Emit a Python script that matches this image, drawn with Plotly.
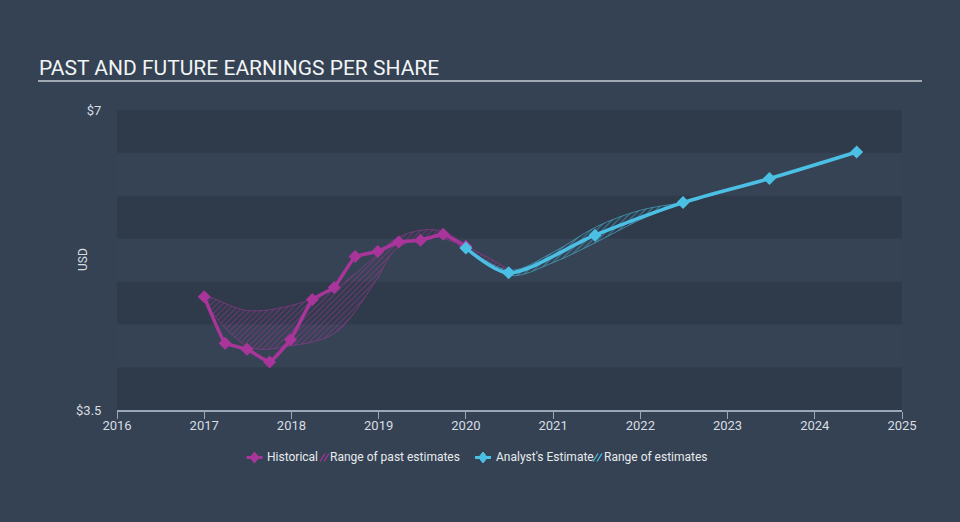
import plotly.graph_objects as go

# ---- data ----
hist_x = [2017.0, 2017.24, 2017.49, 2017.75, 2017.99, 2018.24, 2018.49, 2018.73, 2018.99, 2019.23, 2019.48, 2019.74, 2020.0]
hist_y = [4.82, 4.28, 4.21, 4.06, 4.32, 4.79, 4.93, 5.29, 5.35, 5.46, 5.48, 5.55, 5.41]

est_x = [2020.0, 2020.49, 2021.48, 2022.49, 2023.48, 2024.48]
est_y = [5.39, 5.10, 5.54, 5.92, 6.20, 6.51]

past_rng_x = [2017.0, 2017.5, 2018.0, 2018.5, 2018.95, 2019.2, 2019.5, 2019.75, 2020.0, 2020.5]
past_rng_hi = [4.82, 4.66, 4.72, 4.92, 5.28, 5.50, 5.60, 5.58, 5.42, 5.12]
past_rng_lo = [4.82, 4.24, 4.25, 4.40, 4.98, 5.38, 5.50, 5.50, 5.38, 5.08]

fut_rng_x = [2020.0, 2020.5, 2021.0, 2021.5, 2022.0, 2022.5]
fut_rng_hi = [5.39, 5.13, 5.34, 5.64, 5.83, 5.92]
fut_rng_lo = [5.39, 5.07, 5.22, 5.46, 5.72, 5.92]

y_ticks = [3.5, 7]
y_tick_text = ["$3.5", "$7"]
x_ticks = list(range(2016, 2026))

legend_labels = ["Historical", "Range of past estimates", "Analyst's Estimate", "Range of estimates"]

MAGENTA = "#a9359b"
BLUE = "#4cc0e4"
TXT = "#d8dde3"

# plot-area pixel geometry (for paper-coordinate decorations)
L, T, W, H = 117, 110, 785, 300


def px(x):
    return (x - L) / W


def py(y):
    return (T + H - y) / H


fig = go.Figure()
shapes = []

# background bands
band_edges = [3.5 + 0.5 * i for i in range(8)]
for i in range(7):
    shapes.append(dict(type="rect", xref="paper", yref="y", x0=0, x1=1,
                       y0=band_edges[i], y1=band_edges[i + 1], layer="below", line_width=0,
                       fillcolor="#2f3b4b" if i % 2 == 0 else "#354354"))

fig.add_trace(go.Scatter(
    x=past_rng_x + past_rng_x[::-1], y=past_rng_hi + past_rng_lo[::-1],
    fill="toself", mode="lines", line=dict(color="rgba(169,53,155,0.7)", width=0.8, shape="spline"),
    fillcolor="rgba(0,0,0,0)",
    fillpattern=dict(shape="/", fgcolor="rgba(169,53,155,0.9)", bgcolor="rgba(0,0,0,0)", size=4, solidity=0.3),
    showlegend=False, hoverinfo="skip"))

fig.add_trace(go.Scatter(
    x=fut_rng_x + fut_rng_x[::-1], y=fut_rng_hi + fut_rng_lo[::-1],
    fill="toself", mode="lines", line=dict(color="rgba(76,192,228,0.7)", width=0.8, shape="spline"),
    fillcolor="rgba(0,0,0,0)",
    fillpattern=dict(shape="/", fgcolor="rgba(76,192,228,0.9)", bgcolor="rgba(0,0,0,0)", size=4, solidity=0.3),
    showlegend=False, hoverinfo="skip"))

fig.add_trace(go.Scatter(
    x=hist_x, y=hist_y, mode="lines+markers", showlegend=False,
    line=dict(color=MAGENTA, width=3.5, shape="spline", smoothing=0.3),
    marker=dict(symbol="diamond", size=10, color=MAGENTA)))

fig.add_trace(go.Scatter(
    x=est_x, y=est_y, mode="lines+markers", showlegend=False,
    line=dict(color=BLUE, width=3.5, shape="spline", smoothing=0.8),
    marker=dict(symbol="diamond", size=10, color=BLUE)))

shapes.append(dict(type="line", xref="paper", yref="paper", x0=px(38), x1=px(922),
                   y0=py(81), y1=py(81), layer="above", line=dict(color="#c6ccd3", width=1.5)))
annotations = [
    dict(text="PAST AND FUTURE EARNINGS PER SHARE", xref="paper", yref="paper",
         x=px(37), y=py(68), xanchor="left", yanchor="middle",
         showarrow=False, font=dict(size=21, color="#f2f4f6")),
    dict(text="USD", xref="paper", yref="paper", x=px(83), y=py(260), textangle=-90,
         xanchor="center", yanchor="middle", showarrow=False, font=dict(size=12, color=TXT)),
]

# manual legend
LY = 457.5


def marker_icon(cx, color):
    shapes.append(dict(type="line", xref="paper", yref="paper", x0=px(cx - 8), x1=px(cx + 8),
                       y0=py(LY), y1=py(LY), layer="above", line=dict(color=color, width=3)))
    d = 5.5
    path = "M {} {} L {} {} L {} {} L {} {} Z".format(
        px(cx), py(LY - d), px(cx + d * 0.8), py(LY), px(cx), py(LY + d), px(cx - d * 0.8), py(LY))
    shapes.append(dict(type="path", xref="paper", yref="paper", path=path, layer="above",
                       fillcolor=color, line=dict(color=color, width=1)))


def hatch_icon(x0, color):
    for off in (0, 4):
        shapes.append(dict(type="line", xref="paper", yref="paper", layer="above",
                           x0=px(x0 + off), y0=py(LY + 4), x1=px(x0 + off + 5), y1=py(LY - 4),
                           line=dict(color=color, width=1.2)))


def legend_text(x, txt):
    annotations.append(dict(text=txt, xref="paper", yref="paper", x=px(x), y=py(LY),
                            xanchor="left", yanchor="middle", showarrow=False,
                            font=dict(size=12, color="#e8ebee")))


marker_icon(254.5, MAGENTA)
legend_text(265, legend_labels[0])
hatch_icon(320, MAGENTA)
legend_text(328, legend_labels[1])
marker_icon(483, BLUE)
legend_text(494, legend_labels[2])
hatch_icon(593, BLUE)
legend_text(602, legend_labels[3])

fig.update_layout(
    width=960, height=522,
    paper_bgcolor="#344253", plot_bgcolor="rgba(0,0,0,0)",
    margin=dict(l=L, r=960 - L - W, t=T, b=522 - T - H),
    font=dict(family="Roboto, sans-serif", color=TXT, size=12),
    showlegend=False,
    xaxis=dict(range=[2016, 2025], tickvals=x_ticks, ticktext=[str(v) for v in x_ticks],
               showgrid=False, zeroline=False, showline=True, linecolor="#9aa7b6", linewidth=1.5,
               ticks="outside", ticklen=7, tickcolor="#9aa7b6", tickfont=dict(size=13, color=TXT),
               ticklabelstandoff=-4),
    yaxis=dict(range=[3.5, 7], tickvals=y_ticks, ticktext=y_tick_text, showgrid=False, zeroline=False,
               showline=False, ticks="outside", ticklen=12, tickcolor="rgba(0,0,0,0)",
               tickfont=dict(size=13, color=TXT)),
    annotations=annotations,
    shapes=shapes,
)

fig.write_html("out.html", config={"displayModeBar": False},
               post_script="document.body.style.margin='0';")
